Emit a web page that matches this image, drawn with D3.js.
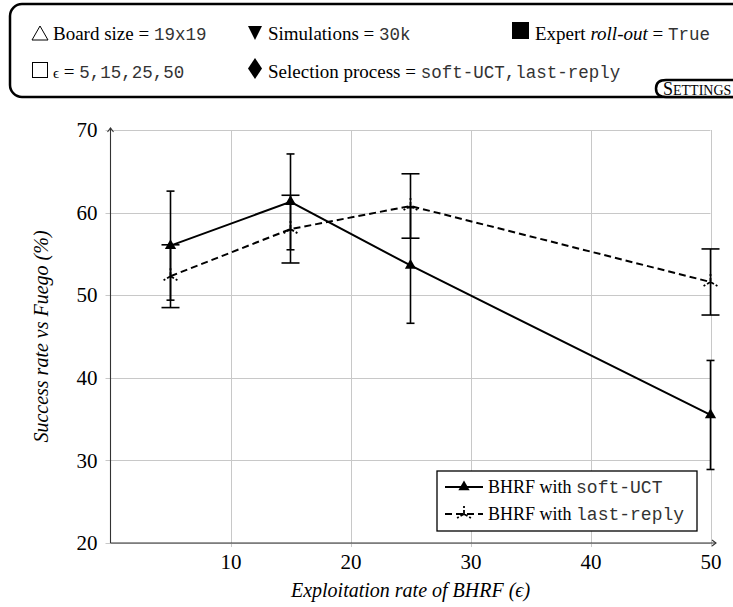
<!DOCTYPE html>
<html>
<head>
<meta charset="utf-8">
<script src="https://cdn.jsdelivr.net/npm/d3@7/dist/d3.min.js"></script>
<style>
  html, body { margin: 0; padding: 0; background: #fff; }
  svg { display: block; }
</style>
</head>
<body>
<div id="chart"></div>
<script>
// ---------------- data ----------------
const epsilon = [5, 15, 25, 50];
const softUCT = [56.0, 61.3, 53.6, 35.5];
const softUCTErr = [6.6, 5.8, 7.0, 6.6];
const lastReply = [52.3, 58.0, 60.8, 51.6];
const lastReplyErr = [3.8, 4.1, 3.9, 4.0];
const xTicks = [10, 20, 30, 40, 50];
const yTicks = [20, 30, 40, 50, 60, 70];
const seriesNames = ["soft-UCT", "last-reply"];

const SERIF = '"Liberation Serif"';
const MONO = '"Liberation Mono"';

// ---------------- layout ----------------
const W = 733, H = 607;
const svg = d3.select("#chart").append("svg").attr("width", W).attr("height", H);

const x = d3.scaleLinear().domain([0, 50]).range([110.5, 710.5]);
const y = d3.scaleLinear().domain([20, 70]).range([543, 130]);

// ---------------- settings box ----------------
const sb = svg.append("g");
sb.append("rect").attr("x", 10).attr("y", 4).attr("width", 760).attr("height", 93)
  .attr("rx", 12).attr("ry", 12).attr("fill", "none").attr("stroke", "#000").attr("stroke-width", 2.5);

// icons
sb.append("path").attr("d", "M32,40 L40,26 L48,40 Z").attr("fill", "none").attr("stroke", "#000").attr("stroke-width", 1);
sb.append("path").attr("d", "M248,26 L262,26 L255,40 Z").attr("fill", "#000");
sb.append("rect").attr("x", 512).attr("y", 22).attr("width", 17).attr("height", 17).attr("fill", "#000");
sb.append("rect").attr("x", 32.5).attr("y", 62.5).attr("width", 15).attr("height", 15).attr("fill", "none").attr("stroke", "#000").attr("stroke-width", 1);
sb.append("path").attr("d", "M255,58 L262,68.5 L255,79 L248,68.5 Z").attr("fill", "#000");

function richText(g, xPos, yPos, parts, size, monoSize) {
  const t = g.append("text").attr("x", xPos).attr("y", yPos)
    .style("font-size", size + "px").style("font-family", SERIF);
  parts.forEach(p => {
    const ts = t.append("tspan").text(p.t);
    if (p.mono) ts.style("font-family", MONO).style("font-size", (monoSize || size) + "px").attr("fill", "#333");
    else ts.style("font-family", SERIF);
    if (p.it) ts.style("font-style", "italic");
    if (p.size) ts.style("font-size", p.size + "px");
  });
  return t;
}
richText(sb, 53, 40, [{t: "Board size = "}, {t: "19x19", mono: true}], 19, 17.5);
richText(sb, 268, 40, [{t: "Simulations = "}, {t: "30k", mono: true}], 19, 17.5);
richText(sb, 535, 40, [{t: "Expert "}, {t: "roll-out", it: true}, {t: " = "}, {t: "True", mono: true}], 19, 17.5);
richText(sb, 53, 78, [{t: "\u03f5", size: 15}, {t: " = "}, {t: "5,15,25,50", mono: true}], 19, 17.5);
richText(sb, 268, 78, [{t: "Selection process = "}, {t: "soft-UCT,last-reply", mono: true}], 19, 17.5);

// SETTINGS tab
sb.append("path").attr("d", "M745,80 L666,80 Q656,80 656,88.5 Q656,97 666,97 L745,97")
  .attr("fill", "#fff").attr("stroke", "#000").attr("stroke-width", 2.5);
richText(sb, 663, 95, [{t: "S", size: 18}, {t: "ETTINGS", size: 14}], 18);

// ---------------- grid ----------------
const grid = svg.append("g").attr("stroke", "#c8c8c8").attr("stroke-width", 1);
grid.selectAll("line.gx").data(xTicks).join("line")
  .attr("x1", d => Math.round(x(d)) + 0.5).attr("x2", d => Math.round(x(d)) + 0.5)
  .attr("y1", y(70)).attr("y2", y(20) + 4);
grid.selectAll("line.gy").data(yTicks).join("line")
  .attr("y1", d => Math.round(y(d)) + 0.5).attr("y2", d => Math.round(y(d)) + 0.5)
  .attr("x1", x(0) - 5).attr("x2", x(50));

// ---------------- axes (labels via d3 axes) ----------------
const xAxis = svg.append("g").attr("transform", `translate(0,${y(20)})`)
  .call(d3.axisBottom(x).tickValues(xTicks).tickSize(0).tickPadding(11));
xAxis.select(".domain").remove();
xAxis.attr("font-family", "Liberation Serif").attr("font-size", 21);
xAxis.selectAll("text").style("font-family", SERIF).style("font-size", "21px").attr("fill", "#000");

const yAxis = svg.append("g").attr("transform", `translate(${x(0)},0)`)
  .call(d3.axisLeft(y).tickValues(yTicks).tickSize(0).tickPadding(13));
yAxis.select(".domain").remove();
yAxis.attr("font-family", "Liberation Serif").attr("font-size", 21);
yAxis.selectAll("text").style("font-family", SERIF).style("font-size", "21px").attr("fill", "#000");

// axis lines with arrows
const ax = svg.append("g").attr("stroke", "#333").attr("stroke-width", 1.1).attr("fill", "none");
ax.append("line").attr("x1", x(0)).attr("x2", 716).attr("y1", y(20)).attr("y2", y(20));
ax.append("path").attr("d", `M712,${y(20) - 3} L716,${y(20)} L712,${y(20) + 3}`);
ax.append("line").attr("x1", x(0)).attr("x2", x(0)).attr("y1", y(20)).attr("y2", 128);
ax.append("path").attr("d", `M${x(0) - 3},132 L${x(0)},128 L${x(0) + 3},132`);

// axis titles
svg.append("text").style("font-family", SERIF).style("font-style", "italic").style("font-size", "20px")
  .attr("x", x(25)).attr("y", 597).attr("text-anchor", "middle")
  .text("Exploitation rate of BHRF (\u03f5)");
svg.append("text").style("font-family", SERIF).style("font-style", "italic").style("font-size", "20px")
  .attr("transform", `translate(48,${y(45)}) rotate(-90)`).attr("text-anchor", "middle")
  .text("Success rate vs Fuego (%)");

// ---------------- error bars ----------------
function errorBars(vals, errs, capW) {
  const g = svg.append("g").attr("stroke", "#000").attr("stroke-width", 1.6);
  epsilon.forEach((e, i) => {
    const cx = x(e), top = y(vals[i] + errs[i]), bot = y(vals[i] - errs[i]);
    g.append("line").attr("x1", cx).attr("x2", cx).attr("y1", top).attr("y2", bot);
    g.append("line").attr("x1", cx - capW).attr("x2", cx + capW).attr("y1", top).attr("y2", top);
    g.append("line").attr("x1", cx - capW).attr("x2", cx + capW).attr("y1", bot).attr("y2", bot);
  });
}
errorBars(lastReply, lastReplyErr, 9);
errorBars(softUCT, softUCTErr, 4);

// ---------------- lines ----------------
const line = d3.line().x(d => x(d[0])).y(d => y(d[1]));
const softData = epsilon.map((e, i) => [e, softUCT[i]]);
const lastData = epsilon.map((e, i) => [e, lastReply[i]]);

svg.append("path").datum(lastData).attr("d", line).attr("fill", "none")
  .attr("stroke", "#000").attr("stroke-width", 2).attr("stroke-dasharray", "7,4");
svg.append("path").datum(softData).attr("d", line).attr("fill", "none")
  .attr("stroke", "#000").attr("stroke-width", 2);

const tri = d3.symbol().type(d3.symbolTriangle).size(55);
function star(cx, cy, r) {
  const a = [-90, 30, 150].map(d => d * Math.PI / 180);
  return a.map(t => `M${cx},${cy} L${cx + r * Math.cos(t)},${cy + r * Math.sin(t)}`).join(" ");
}
svg.append("g").selectAll("path").data(softData).join("path")
  .attr("transform", d => `translate(${x(d[0])},${y(d[1])})`).attr("d", tri).attr("fill", "#000");
svg.append("g").selectAll("path").data(lastData).join("path")
  .attr("d", d => star(x(d[0]), y(d[1]), 8)).attr("fill", "none")
  .attr("stroke", "#000").attr("stroke-width", 1.8).attr("stroke-dasharray", "4,2");

// ---------------- legend ----------------
const lg = svg.append("g");
lg.append("rect").attr("x", 437).attr("y", 471).attr("width", 260).attr("height", 60)
  .attr("fill", "#fff").attr("stroke", "#000").attr("stroke-width", 1.3);
lg.append("line").attr("x1", 445).attr("x2", 483).attr("y1", 487).attr("y2", 487)
  .attr("stroke", "#000").attr("stroke-width", 2);
lg.append("path").attr("transform", "translate(464,487)").attr("d", tri).attr("fill", "#000");
lg.append("line").attr("x1", 445).attr("x2", 483).attr("y1", 514).attr("y2", 514)
  .attr("stroke", "#000").attr("stroke-width", 2).attr("stroke-dasharray", "7,4");
lg.append("path").attr("d", star(464, 514, 8)).attr("fill", "none")
  .attr("stroke", "#000").attr("stroke-width", 1.8).attr("stroke-dasharray", "4,2");
richText(lg, 488, 493, [{t: "BHRF with "}, {t: seriesNames[0], mono: true}], 18, 18);
richText(lg, 488, 520, [{t: "BHRF with "}, {t: seriesNames[1], mono: true}], 18, 18);
</script>
</body>
</html>
